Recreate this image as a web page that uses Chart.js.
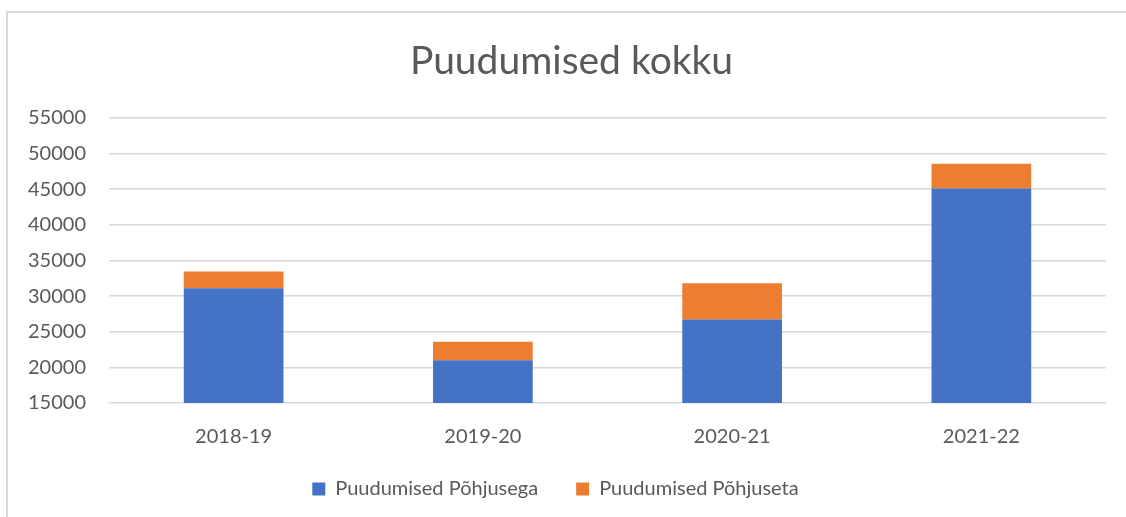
<!DOCTYPE html>
<html>
<head>
<meta charset="utf-8">
<script src="https://cdn.jsdelivr.net/npm/chart.js@4"></script>
<style>
  html, body { margin: 0; padding: 0; background: #fff; }
  .frame {
    position: absolute; left: 6px; top: 11px; width: 1200px; height: 600px;
    border-left: 2px solid #d9d9d9; border-top: 2px solid #d9d9d9;
  }
  .wrap { position: absolute; left: 0; top: 0; width: 1126px; height: 517px; }
</style>
</head>
<body>
<div class="frame"></div>
<div class="wrap"><canvas class="bar-chart"></canvas></div>
<script>
const years = ["2018-19", "2019-20", "2020-21", "2021-22"];
const pohjusega = [31100, 21000, 26700, 45100];
const pohjuseta = [2350, 2600, 5100, 3450];
const yMin = 15000;
const yMax = 55000;
const yStep = 5000;

const textColor = "#595959";
const gridColor = "#d9d9d9";

const barChart = document.querySelector(".bar-chart");

// x axis was shrunk in afterFit, so give its labels room again before drawing;
// the title sits a bit right of the plot centre in the original
const tweakLayout = {
    id: 'tweakLayout',
    afterLayout(chart) {
        chart.scales.x.bottom += 30;
        chart.scales.x.height += 30;
        if (chart.titleBlock) {
            chart.titleBlock.left += 16;
            chart.titleBlock.right += 16;
        }
    },
};

new Chart(barChart, {
    type: 'bar',
    data: {
        labels: years,
        datasets: [
            {
                label: "Puudumised Põhjusega",
                data: pohjusega,
                backgroundColor: "#4472C4",
                barPercentage: 0.4,
                categoryPercentage: 1,
            },
            {
                label: "Puudumised Põhjuseta",
                data: pohjuseta,
                backgroundColor: "#ED7D31",
                barPercentage: 0.4,
                categoryPercentage: 1,
            },
        ],
    },
    options: {
        responsive: true,
        maintainAspectRatio: false,
        animation: false,
        layout: {
            padding: { left: 5, right: 20, top: 0, bottom: 8 },
        },
        scales: {
            x: {
                stacked: true,
                grid: { display: false },
                border: { display: false },
                ticks: {
                    color: textColor,
                    font: { family: "Lato", size: 20 },
                    padding: 14,
                },
                // pull the plot down towards the legend
                afterFit: (scale) => { scale.height -= 22; },
            },
            y: {
                stacked: true,
                min: yMin,
                max: yMax,
                grid: { color: gridColor, lineWidth: 1.5, drawTicks: false },
                border: { display: false },
                ticks: {
                    stepSize: yStep,
                    color: textColor,
                    font: { family: "Lato", size: 20 },
                    padding: 23,
                    callback: (v) => String(v),
                },
            },
        },
        plugins: {
            title: {
                display: true,
                text: "Puudumised kokku",
                color: textColor,
                font: { family: "Lato", size: 39, weight: 'normal' },
                padding: { top: 38, bottom: 33 },
            },
            legend: {
                display: true,
                position: 'bottom',
                labels: {
                    color: textColor,
                    font: { family: "Lato", size: 20 },
                    boxWidth: 13,
                    boxHeight: 13,
                    padding: 38,
                },
            },
            tooltip: { enabled: false },
        },
    },
    plugins: [tweakLayout],
});
</script>
</body>
</html>
